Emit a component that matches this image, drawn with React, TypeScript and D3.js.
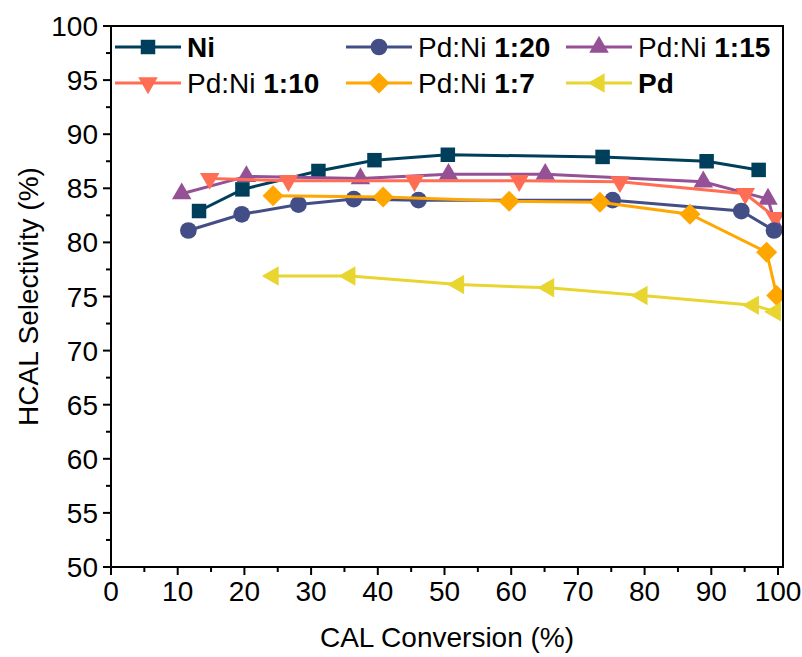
import React from "react";
import * as d3 from "d3";

// CAL conversion (%) and HCAL selectivity (%) for each catalyst
const niX = [13.2, 19.7, 31.1, 39.5, 50.5, 73.7, 89.3, 97.1];
const niY = [82.9, 84.9, 86.6, 87.6, 88.1, 87.9, 87.5, 86.7];

const pd20X = [11.6, 19.6, 28.1, 36.4, 46.1, 75.2, 94.5, 99.4];
const pd20Y = [81.1, 82.6, 83.5, 84.0, 83.9, 83.9, 82.9, 81.1];

const pd15X = [10.6, 20.3, 37.4, 50.6, 65.1, 88.8, 98.5, 99.7];
const pd15Y = [84.5, 86.1, 85.9, 86.3, 86.3, 85.6, 84.0, 81.4];

const pd10X = [14.8, 26.6, 45.5, 61.2, 76.3, 95.1, 99.6];
const pd10Y = [85.9, 85.7, 85.7, 85.7, 85.6, 84.5, 82.3];

const pd7X = [24.3, 40.8, 59.7, 73.3, 86.8, 98.3, 99.8];
const pd7Y = [84.3, 84.2, 83.8, 83.7, 82.6, 79.1, 75.1];

const pdX = [24.3, 35.8, 52.1, 65.6, 79.6, 96.3, 99.6];
const pdY = [76.9, 76.9, 76.1, 75.8, 75.1, 74.2, 73.6];

const xTicks = [0, 10, 20, 30, 40, 50, 60, 70, 80, 90, 100];
const yTicks = [50, 55, 60, 65, 70, 75, 80, 85, 90, 95, 100];

type Shape = "square" | "circle" | "up" | "down" | "diamond" | "left";

interface Series {
  key: string;
  plain: string;
  bold: string;
  color: string;
  shape: Shape;
  xs: number[];
  ys: number[];
}

const series: Series[] = [
  { key: "ni", plain: "", bold: "Ni", color: "#003f5c", shape: "square", xs: niX, ys: niY },
  { key: "pd20", plain: "Pd:Ni ", bold: "1:20", color: "#444e86", shape: "circle", xs: pd20X, ys: pd20Y },
  { key: "pd15", plain: "Pd:Ni ", bold: "1:15", color: "#955196", shape: "up", xs: pd15X, ys: pd15Y },
  { key: "pd10", plain: "Pd:Ni ", bold: "1:10", color: "#ff6e54", shape: "down", xs: pd10X, ys: pd10Y },
  { key: "pd7", plain: "Pd:Ni ", bold: "1:7", color: "#ffa600", shape: "diamond", xs: pd7X, ys: pd7Y },
  { key: "pd", plain: "", bold: "Pd", color: "#e8d530", shape: "left", xs: pdX, ys: pdY },
];

// drawing order of the data layers
const drawOrder = ["ni", "pd15", "pd10", "pd20", "pd7", "pd"];

const W = 802;
const H = 657;
const left = 111;
const right = 783;
const top = 26;
const bottom = 567;

const x = d3.scaleLinear().domain([0, 100]).range([left, 778]);
const y = d3.scaleLinear().domain([50, 100]).range([bottom, top]);

const FONT = "'Liberation Sans', Arial, sans-serif";
const FS = 28;

function markerPath(shape: Shape): string {
  switch (shape) {
    case "square":
      return d3.symbol().type(d3.symbolSquare).size(210)() as string;
    case "circle":
      return d3.symbol().type(d3.symbolCircle).size(220)() as string;
    case "diamond": {
      const r = 10.5;
      return `M0,${-r}L${r},0L0,${r}L${-r},0Z`;
    }
    default:
      return d3.symbol().type(d3.symbolTriangle).size(165)() as string;
  }
}

function markerRotation(shape: Shape): number {
  if (shape === "down") return 180;
  if (shape === "left") return -90;
  return 0;
}

function Marker({ shape, color, cx, cy }: { shape: Shape; color: string; cx: number; cy: number }) {
  return (
    <path
      d={markerPath(shape)}
      fill={color}
      transform={`translate(${cx},${cy}) rotate(${markerRotation(shape)})`}
    />
  );
}

export default function App() {
  const line = d3
    .line<[number, number]>()
    .x((d) => x(d[0]))
    .y((d) => y(d[1]));

  const xMinor = d3.range(5, 100, 10);
  const yMinor = d3.range(52.5, 100, 5);

  const legendCols = [115, 346, 566];
  const legendRows = [47, 83];

  return (
    <svg
      width={W}
      height={H}
      style={{ position: "absolute", left: 0, top: 0, background: "#fff" }}
      fontFamily={FONT}
    >
      <defs>
        <clipPath id="plot-clip">
          <rect x={left} y={top} width={right - left} height={bottom - top} />
        </clipPath>
      </defs>

      {/* data */}
      <g clipPath="url(#plot-clip)">
        {drawOrder.map((k) => {
          const s = series.find((d) => d.key === k)!;
          const pts = s.xs.map((v, i) => [v, s.ys[i]] as [number, number]);
          return (
            <g key={k}>
              <path d={line(pts) as string} fill="none" stroke={s.color} strokeWidth={3} />
              {pts.map((p, i) => (
                <Marker key={i} shape={s.shape} color={s.color} cx={x(p[0])} cy={y(p[1])} />
              ))}
            </g>
          );
        })}
      </g>

      {/* frame */}
      <rect
        x={left}
        y={top}
        width={right - left}
        height={bottom - top}
        fill="none"
        stroke="#000"
        strokeWidth={2}
      />

      {/* x axis ticks */}
      {xTicks.map((t) => (
        <g key={`xt${t}`}>
          <line x1={x(t)} x2={x(t)} y1={bottom} y2={bottom + 8} stroke="#000" strokeWidth={2} />
          <text x={x(t)} y={601} textAnchor="middle" fontSize={FS} fill="#000">
            {t}
          </text>
        </g>
      ))}
      {xMinor.map((t) => (
        <line key={`xm${t}`} x1={x(t)} x2={x(t)} y1={bottom} y2={bottom + 5} stroke="#000" strokeWidth={2} />
      ))}

      {/* y axis ticks */}
      {yTicks.map((t) => (
        <g key={`yt${t}`}>
          <line x1={left - 8} x2={left} y1={y(t)} y2={y(t)} stroke="#000" strokeWidth={2} />
          <text x={98} y={y(t) + 10} textAnchor="end" fontSize={FS} fill="#000">
            {t}
          </text>
        </g>
      ))}
      {yMinor.map((t) => (
        <line key={`ym${t}`} x1={left - 5} x2={left} y1={y(t)} y2={y(t)} stroke="#000" strokeWidth={2} />
      ))}

      {/* axis titles */}
      <text x={447} y={647} textAnchor="middle" fontSize={FS} fill="#000">
        CAL Conversion (%)
      </text>
      <text
        transform={`translate(38,${(top + bottom) / 2}) rotate(-90)`}
        textAnchor="middle"
        fontSize={FS}
        fill="#000"
      >
        HCAL Selectivity (%)
      </text>

      {/* legend */}
      {series.map((s, i) => {
        const cx = legendCols[i % 3];
        const cy = legendRows[Math.floor(i / 3)];
        return (
          <g key={`lg${s.key}`}>
            <line x1={cx} x2={cx + 66} y1={cy} y2={cy} stroke={s.color} strokeWidth={3} />
            <Marker shape={s.shape} color={s.color} cx={cx + 33} cy={cy} />
            <text x={cx + 72} y={cy + 10} fontSize={FS} fill="#000">
              {s.plain}
              <tspan fontWeight="bold">{s.bold}</tspan>
            </text>
          </g>
        );
      })}
    </svg>
  );
}
